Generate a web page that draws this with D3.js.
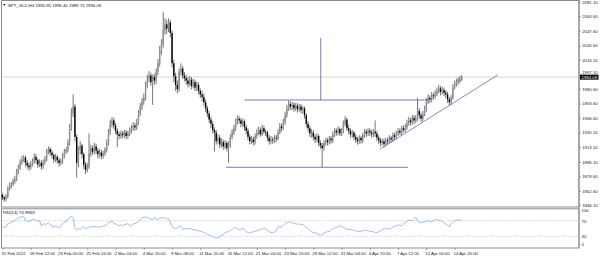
<!DOCTYPE html>
<html><head><meta charset="utf-8">
<script src="https://cdn.jsdelivr.net/npm/d3@7"></script>
<style>body{margin:0;background:#fff}svg{display:block}text{font-family:"Liberation Sans",Arial,sans-serif}</style>
</head><body><svg id="c" width="600" height="258"></svg>
<script>
// ---- data (SPT_GLD H4, 15 Feb - 18 Apr 2022) ----
const firstOpen = 1858;
const closes = [
1855,1853,1856,1866,1868,1870,1874,1876,1885,1890,
1896,1899,1901,1895,1892,1890,1894,1897,1902,1898,
1893,1895,1891,1896,1899,1908,1911,1907,1904,1899,
1902,1898,1895,1897,1903,1908,1910,1918,1935,1952,
1960,1925,1895,1910,1915,1905,1893,1887,1890,1906,
1912,1908,1914,1909,1905,1907,1903,1906,1910,1918,
1930,1940,1944,1938,1932,1928,1926,1929,1927,1930,
1926,1929,1932,1935,1938,1936,1942,1952,1960,1966,
1970,1985,1992,1996,1988,1994,1990,2000,2010,2025,
2032,2048,2055,2050,2057,2045,2010,1995,1985,1980,
2000,2004,1996,1993,1990,1986,1991,1984,1988,1982,
1985,1978,1974,1971,1965,1958,1952,1945,1940,1933,
1930,1920,1924,1916,1919,1914,1918,1912,1916,1925,
1930,1935,1942,1946,1944,1940,1943,1936,1932,1925,
1920,1922,1919,1926,1930,1933,1928,1935,1931,1930,
1924,1920,1922,1921,1924,1923,1930,1937,1935,1942,
1950,1958,1963,1960,1962,1958,1961,1957,1960,1956,
1958,1950,1940,1935,1929,1930,1925,1922,1926,1918,
1915,1912,1918,1921,1919,1923,1921,1928,1932,1930,
1934,1929,1932,1940,1945,1935,1932,1928,1930,1925,
1922,1920,1924,1921,1927,1931,1929,1932,1930,1928,
1931,1929,1924,1921,1918,1920,1917,1921,1920,1924,
1922,1927,1925,1929,1932,1930,1935,1933,1936,1941,
1944,1942,1947,1944,1946,1955,1950,1946,1952,1957,
1966,1970,1968,1973,1972,1975,1978,1981,1977,1979,
1976,1974,1968,1965,1970,1982,1986,1988,1991,1990.95,
1994.09];
const highs = [
1860,1857,1859,1868,1872,1873,1877,1880,1888,1893,
1899,1903,1904,1903,1898,1895,1897,1900,1906,1905,
1900,1899,1898,1899,1903,1911,1914,1913,1910,1906,
1905,1904,1901,1900,1906,1911,1913,1922,1940,1958,
1974,1963,1928,1914,1920,1917,1907,1896,1895,1929,
1916,1915,1918,1917,1912,1911,1910,1909,1913,1922,
1934,1945,1948,1947,1941,1935,1931,1932,1932,1933,
1933,1932,1936,1939,1942,1941,1946,1956,1964,1970,
1975,1989,1997,2001,1999,1997,1998,2004,2015,2030,
2038,2069,2062,2060,2062,2060,2048,2014,1999,1990,
2004,2010,2007,2000,1997,1994,1995,1994,1992,1991,
1989,1988,1981,1978,1975,1968,1961,1955,1948,1943,
1936,1933,1928,1927,1923,1922,1921,1920,1920,1928,
1934,1939,1946,1950,1949,1947,1946,1945,1939,1935,
1928,1926,1925,1929,1934,1937,1936,1939,1938,1934,
1932,1927,1926,1925,1927,1927,1934,1941,1940,1946,
1954,1962,1967,1966,1965,1965,1964,1964,1963,1963,
1961,1960,1952,1943,1938,1934,1933,1928,1929,1928,
1921,1918,1921,1924,1924,1926,1926,1931,1935,1935,
1937,1936,1935,1944,1949,1947,1939,1935,1933,1932,
1928,1925,1927,1926,1930,1934,1934,1935,1935,1933,
1934,1944,1932,1927,1924,1923,1923,1924,1924,1927,
1926,1930,1930,1932,1935,1935,1938,1938,1940,1945,
1948,1947,1950,1950,1950,1970,1958,1953,1955,1961,
1970,1974,1973,1977,1976,1979,1982,1985,1984,1983,
1982,1979,1977,1971,1973,1986,1990,1992,1994,1995,
1996.40];
const lows = [
1852,1850,1851,1854,1863,1865,1868,1871,1874,1882,
1887,1893,1896,1891,1888,1886,1887,1891,1894,1894,
1889,1890,1887,1888,1893,1897,1905,1903,1900,1895,
1896,1894,1891,1892,1894,1900,1905,1907,1915,1932,
1948,1920,1878,1890,1905,1900,1888,1882,1884,1888,
1902,1904,1905,1905,1900,1901,1899,1900,1903,1907,
1915,1927,1936,1934,1928,1913,1922,1923,1923,1924,
1922,1923,1926,1929,1932,1932,1933,1939,1949,1956,
1962,1967,1981,1988,1984,1962,1985,1986,1996,2006,
2020,2028,2043,2044,2046,2040,2005,1988,1978,1975,
1977,1996,1992,1989,1985,1982,1983,1980,1981,1978,
1978,1974,1970,1966,1961,1954,1948,1941,1935,1929,
1908,1916,1917,1912,1913,1910,1911,1908,1895,1913,
1922,1927,1932,1939,1940,1936,1937,1932,1928,1921,
1916,1917,1915,1916,1923,1927,1925,1926,1928,1926,
1920,1916,1917,1917,1918,1919,1921,1928,1931,1933,
1939,1947,1955,1956,1956,1954,1955,1953,1954,1952,
1952,1946,1936,1931,1925,1924,1921,1918,1919,1914,
1911,1890,1909,1915,1915,1916,1917,1918,1925,1926,
1927,1926,1926,1929,1937,1932,1928,1924,1924,1921,
1918,1916,1917,1917,1918,1924,1925,1926,1926,1924,
1925,1925,1920,1917,1914,1915,1913,1914,1916,1917,
1918,1919,1921,1922,1926,1927,1927,1930,1930,1933,
1938,1938,1939,1940,1941,1943,1946,1942,1943,1949,
1954,1963,1964,1965,1968,1969,1972,1975,1973,1974,
1972,1970,1964,1961,1962,1968,1980,1983,1985,1987,
1989.73];
const rsi = [
55,52,55,62,64,66,69,70,74,77,
79,80,80,71,69,68,70,72,74,71,
69,70,56,63,60,62,64,60,56,54,
57,55,52,55,63,66,67,73,79,81,
78,52,46,50,48,52,55,50,51,53,
55,54,56,55,54,53,55,56,57,60,
65,67,68,64,62,59,58,59,58,60,
61,62,57,59,62,62,65,69,72,78,
79,80,78,76,74,73,78,75,73,76,
77,78,77,74,76,67,55,52,50,52,
54,57,48,49,50,49,51,48,47,46,
46,44,43,42,40,38,35,33,31,29,
27,25,27,28,33,35,39,41,42,45,
48,51,53,50,46,48,50,46,42,40,
38,40,42,43,44,46,48,49,50,49,
46,42,40,39,41,44,55,54,53,58,
63,65,67,66,65,63,62,61,62,60,
60,57,52,50,45,42,40,39,37,35,
33,34,38,40,42,42,45,50,51,53,
55,57,55,53,50,48,48,47,46,45,
44,43,42,43,44,46,45,44,43,42,
42,40,39,42,44,48,49,50,49,48,
51,53,56,57,59,58,57,62,66,68,
72,71,70,75,79,69,66,65,66,67,
69,70,68,67,70,73,72,71,70,68,
65,61,58,55,63,66,70,71,72,71,
70.9969];
const priceTicks = [2081.10,2064.60,2047.60,2030.60,2014.10,1997.10,1980.60,1963.60,1946.60,1930.10,1913.10,1896.10,1879.60,1862.60,1846.10];
const rsiTicks = [100,70,30,0];
const rsiLevels = [70,30];
const timeTickBars = [0,16,32,48,64,80,96,112,128,144,160,176,192,208,224,240,256];
const timeLabels = ["15 Feb 2022","18 Feb 12:00","23 Feb 00:00","25 Feb 16:00","2 Mar 04:00","4 Mar 20:00","9 Mar 08:00","11 Mar 20:00","16 Mar 12:00","21 Mar 04:00","23 Mar 20:00","28 Mar 12:00","31 Mar 04:00","4 Apr 20:00","7 Apr 12:00","12 Apr 04:00","14 Apr 20:00"];
const symbolTitle = "SPT_GLD,H4";
const rsiTitle = "RSI(14) 70.9969";
const lastPrice = 1994.09;
// analysis objects (bar index / price)
const hLevels = [{from:137, to:241, price:1967.6},{from:126.5, to:229.6, price:1889.9}];
const vLines = [{bar:180.2, from:1967.6, to:2039.2}];
const trendLines = [{b1:213.8, p1:1911.0, b2:280.4, p2:1996.5}];

// ---- drawing ----
const svg = d3.select("#c");
const W = 579;
const x = d3.scaleLinear().domain([0,260]).range([2.5,461.7]);
const y = d3.scaleLinear().domain([1844.03,2083.06]).range([207,0]);
const yr = d3.scaleLinear().domain([0,100]).range([248,209]);
const FS = 4.3;

// panels
svg.append("rect").attr("x",1.5).attr("y",0.5).attr("width",W-1.5).attr("height",206.5).attr("fill","#fff").attr("stroke","#8c8c8c").attr("stroke-width",1);
svg.append("rect").attr("x",1.5).attr("y",208.8).attr("width",W-1.5).attr("height",39.2).attr("fill","#fff").attr("stroke","#8c8c8c").attr("stroke-width",1);

// current price line
svg.append("line").attr("x1",2).attr("x2",W).attr("y1",y(lastPrice)).attr("y2",y(lastPrice)).attr("stroke","#c8c8c8").attr("stroke-width",0.8);

// candles
const bars = closes.map((c,i)=>({i, o: i===0?firstOpen:closes[i-1], h: highs[i], l: lows[i], c}));
const cg = svg.append("g");
cg.selectAll("line.w").data(bars).join("line").attr("class","w")
  .attr("x1",d=>x(d.i)).attr("x2",d=>x(d.i)).attr("y1",d=>y(d.h)).attr("y2",d=>y(d.l))
  .attr("stroke","#3a3a3a").attr("stroke-width",0.7);
cg.selectAll("rect").data(bars).join("rect")
  .attr("x",d=>x(d.i)-0.7).attr("width",1.4)
  .attr("y",d=>y(Math.max(d.o,d.c))).attr("height",d=>Math.max(0.6,Math.abs(y(d.o)-y(d.c))))
  .attr("fill",d=>d.c>=d.o?"#8f8f8f":"#000");

// analysis lines
const LC = "#6b6bb8";
svg.selectAll("line.h").data(hLevels).join("line").attr("class","h")
  .attr("x1",d=>x(d.from)).attr("x2",d=>x(d.to)).attr("y1",d=>y(d.price)).attr("y2",d=>y(d.price))
  .attr("stroke",LC).attr("stroke-width",0.9);
svg.selectAll("line.v").data(vLines).join("line").attr("class","v")
  .attr("x1",d=>x(d.bar)).attr("x2",d=>x(d.bar)).attr("y1",d=>y(d.from)).attr("y2",d=>y(d.to))
  .attr("stroke",LC).attr("stroke-width",0.9);
svg.selectAll("line.t").data(trendLines).join("line").attr("class","t")
  .attr("x1",d=>x(d.b1)).attr("x2",d=>x(d.b2)).attr("y1",d=>y(d.p1)).attr("y2",d=>y(d.p2))
  .attr("stroke",LC).attr("stroke-width",0.8);

// header
svg.append("text").attr("x",2.5).attr("y",6.3).attr("font-size",3.6).attr("fill","#000").text("▼");
svg.append("text").attr("x",8).attr("y",6.5).attr("font-size",FS).attr("fill","#111")
  .text(symbolTitle+" "+[bars[260].o,bars[260].h,bars[260].l,bars[260].c].map(d3.format(".2f")).join(" "));

// price axis
const pa = svg.append("g").attr("transform",`translate(${W},0)`)
  .call(d3.axisRight(y).tickValues(priceTicks).tickSize(2).tickPadding(1.2).tickFormat(d3.format(".2f")));
pa.select(".domain").remove();
pa.selectAll("line").attr("stroke","#666").attr("stroke-width",0.6);
pa.selectAll("text").attr("font-size",FS).attr("fill","#222").attr("font-family","Liberation Sans, Arial, sans-serif")
  .attr("dy",d=>Math.abs(y(d)-y(lastPrice))<5?"-0.25em":"0.32em");
svg.append("line").attr("x1",W).attr("x2",W).attr("y1",0).attr("y2",248).attr("stroke","#8c8c8c").attr("stroke-width",1);
// last price box
svg.append("rect").attr("x",W+1).attr("y",y(lastPrice)-2.4).attr("width",18.5).attr("height",5).attr("fill","#000");
svg.append("text").attr("x",W+2.5).attr("y",y(lastPrice)+1.5).attr("font-size",FS).attr("fill","#fff").text(d3.format(".2f")(lastPrice));

// RSI
svg.selectAll("line.lv").data(rsiLevels).join("line").attr("class","lv")
  .attr("x1",2).attr("x2",W).attr("y1",d=>yr(d)).attr("y2",d=>yr(d))
  .attr("stroke","#b4b4b4").attr("stroke-width",0.6).attr("stroke-dasharray","1.2,1.2");
svg.append("path").datum(rsi).attr("fill","none").attr("stroke","#7cb3e6").attr("stroke-width",0.8)
  .attr("d",d3.line().x((d,i)=>x(i)).y(d=>yr(d)));
svg.append("text").attr("x",3).attr("y",213.6).attr("font-size",FS).attr("fill","#111").text(rsiTitle);
const ra = svg.append("g").attr("transform",`translate(${W},0)`)
  .call(d3.axisRight(yr).tickValues(rsiTicks).tickSize(0).tickPadding(2.5).tickFormat(d3.format("d")));
ra.select(".domain").remove();
ra.selectAll("text").attr("font-size",FS).attr("fill","#222").attr("font-family","Liberation Sans, Arial, sans-serif")
  .attr("dy",d=>d===100?"2.2":(d===0?"-2.3":"0.32em"));

// time axis
const ta = svg.append("g").attr("transform","translate(0,248)")
  .call(d3.axisBottom(x).tickValues(timeTickBars).tickSize(2).tickPadding(1).tickFormat((d,i)=>timeLabels[i]));
ta.select(".domain").remove();
ta.selectAll("line").attr("stroke","#666").attr("stroke-width",0.6);
ta.selectAll("text").attr("font-size",FS).attr("fill","#222").attr("text-anchor","start").attr("x",-1.6).attr("dy","0.9em")
  .attr("font-family","Liberation Sans, Arial, sans-serif");
</script></body></html>
